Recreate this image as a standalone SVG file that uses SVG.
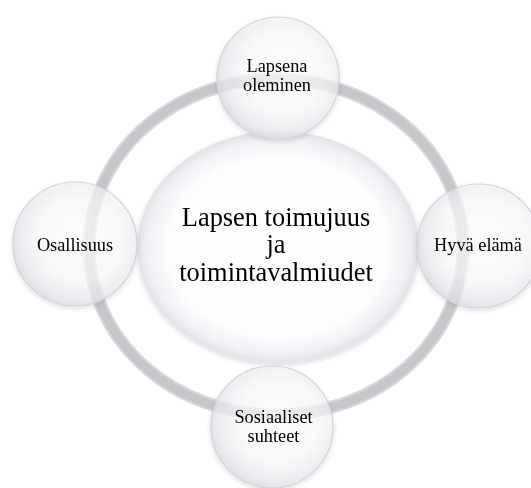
<svg xmlns="http://www.w3.org/2000/svg" width="531" height="488" viewBox="0 0 531 488">
<style>
.ring-outer{fill:none;stroke:#d9d9dd;stroke-width:13}
.ring-inner{fill:none;stroke:#c6c6cb;stroke-width:9}
.small{fill:url(#gSmall);stroke:#d2d2d8;stroke-width:1.2}
.center{fill:url(#gCenter);stroke:#e4e4e8;stroke-width:1.5}
.t{font-family:"Liberation Serif","Times New Roman",serif;fill:#000;text-anchor:middle}
.ts{font-size:18.3px}
.tc{font-size:26.4px}
</style>
<defs>
<radialGradient id="gSmall" cx="0.55" cy="0.45" r="0.55">
<stop offset="0" stop-color="#ffffff" stop-opacity="0.72"/>
<stop offset="0.6" stop-color="#fcfcfd" stop-opacity="0.68"/>
<stop offset="0.88" stop-color="#ececf1" stop-opacity="0.7"/>
<stop offset="1" stop-color="#dedee5" stop-opacity="0.78"/>
</radialGradient>
<radialGradient id="gCenter" cx="0.5" cy="0.5" r="0.5">
<stop offset="0" stop-color="#ffffff"/>
<stop offset="0.78" stop-color="#fdfdfe"/>
<stop offset="0.93" stop-color="#f1f1f5"/>
<stop offset="1" stop-color="#e2e2e8"/>
</radialGradient>
<filter id="sh" x="-20%" y="-20%" width="140%" height="140%">
<feGaussianBlur in="SourceAlpha" stdDeviation="2.5"/>
<feOffset dx="0" dy="2" result="b"/>
<feComponentTransfer><feFuncA type="linear" slope="0.16"/></feComponentTransfer>
<feMerge><feMergeNode/><feMergeNode in="SourceGraphic"/></feMerge>
</filter>
</defs>
<rect width="531" height="488" fill="#ffffff"/>
<g id="connectors">
<ellipse class="ring-outer" cx="276" cy="247" rx="187" ry="168"/>
<ellipse class="ring-inner" cx="276" cy="247" rx="187" ry="168"/>
</g>
<g id="node-center" filter="url(#sh)">
<ellipse class="center" cx="278" cy="247" rx="140" ry="115"/>
<text class="t tc" x="276" y="225.5">Lapsen toimujuus</text>
<text class="t tc" x="276" y="253">ja</text>
<text class="t tc" x="276" y="280.5">toimintavalmiudet</text>
</g>
<g id="node-top" filter="url(#sh)">
<circle class="small" cx="278" cy="78" r="61"/>
<text class="t ts" x="277" y="72">Lapsena</text>
<text class="t ts" x="277" y="90.5">oleminen</text>
</g>
<g id="node-right" filter="url(#sh)">
<circle class="small" cx="479" cy="246" r="62"/>
<text class="t ts" x="478" y="251">Hyvä elämä</text>
</g>
<g id="node-bottom" filter="url(#sh)">
<circle class="small" cx="272" cy="427" r="61"/>
<text class="t ts" x="273.5" y="423">Sosiaaliset</text>
<text class="t ts" x="273.5" y="442">suhteet</text>
</g>
<g id="node-left" filter="url(#sh)">
<circle class="small" cx="75" cy="244" r="62"/>
<text class="t ts" x="75" y="251">Osallisuus</text>
</g>
</svg>
